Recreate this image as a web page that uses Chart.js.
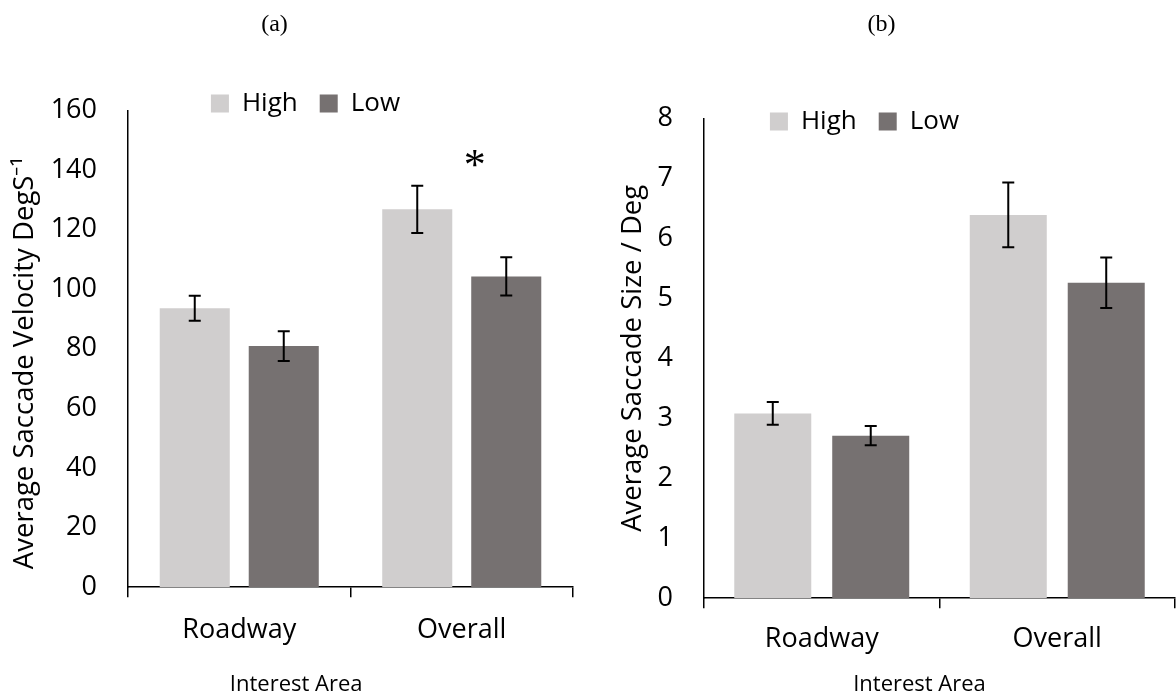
<!DOCTYPE html>
<html>
<head>
<meta charset="utf-8">
<script src="https://cdn.jsdelivr.net/npm/chart.js@4"></script>
<style>
  html, body { margin: 0; padding: 0; background: #fff; }
  .box { position: absolute; top: 0; width: 588px; height: 700px; }
</style>
</head>
<body>
<div class="box" style="left:0"><canvas id="velChart"></canvas></div>
<div class="box" style="left:588px"><canvas id="sizeChart"></canvas></div>
<script>
const categories = ['Roadway', 'Overall'];
const seriesNames = ['High', 'Low'];
const seriesColors = ['#D0CECE', '#767171'];

// (a) saccade velocity
const velHigh = [93.6, 126.8];
const velHighErr = [4.2, 7.9];
const velLow = [80.9, 104.3];
const velLowErr = [5.0, 6.4];
const velTicks = [0, 20, 40, 60, 80, 100, 120, 140, 160];
const velStar = { dataset: 1, index: 1, value: 144 };

// (b) saccade size
const sizeHigh = [3.08, 6.39];
const sizeHighErr = [0.19, 0.54];
const sizeLow = [2.71, 5.26];
const sizeLowErr = [0.16, 0.42];
const sizeTicks = [0, 1, 2, 3, 4, 5, 6, 7, 8];

const FONT = "'Open Sans', sans-serif";

const errorBars = {
    id: 'errorBars',
    afterDatasetsDraw(chart) {
        const ctx = chart.ctx;
        const y = chart.scales.y;
        chart.data.datasets.forEach(function(ds, i) {
            const meta = chart.getDatasetMeta(i);
            meta.data.forEach(function(bar, j) {
                const v = ds.data[j], e = ds.errors[j];
                const top = y.getPixelForValue(v + e);
                const bot = y.getPixelForValue(v - e);
                ctx.save();
                ctx.strokeStyle = '#000';
                ctx.lineWidth = 2;
                ctx.beginPath();
                ctx.moveTo(bar.x, top); ctx.lineTo(bar.x, bot);
                ctx.moveTo(bar.x - 6, top); ctx.lineTo(bar.x + 6, top);
                ctx.moveTo(bar.x - 6, bot); ctx.lineTo(bar.x + 6, bot);
                ctx.stroke();
                ctx.restore();
            });
        });
    }
};

const starMark = {
    id: 'starMark',
    afterDatasetsDraw(chart, args, opts) {
        if (!opts || !opts.mark) return;
        const m = opts.mark;
        const bar = chart.getDatasetMeta(m.dataset).data[m.index];
        const ctx = chart.ctx;
        ctx.save();
        ctx.font = "44px 'Liberation Serif', serif";
        ctx.fillStyle = '#000';
        ctx.textAlign = 'center';
        ctx.textBaseline = 'alphabetic';
        const mt = ctx.measureText('*');
        const mid = (mt.actualBoundingBoxAscent - mt.actualBoundingBoxDescent) / 2;
        ctx.fillText('*', bar.x - bar.width * 0.45, chart.scales.y.getPixelForValue(m.value) + mid);
        ctx.restore();
    }
};

// nudge the legend so it sits where the original has it
const legendShift = {
    id: 'legendShift',
    afterLayout(chart, args, opts) {
        const lg = chart.legend;
        lg.left += opts.dx; lg.right += opts.dx;
        lg.top += opts.dy; lg.bottom += opts.dy;
    }
};

function makeChart(id, cfg) {
    return new Chart(document.getElementById(id), {
        type: 'bar',
        data: {
            labels: categories,
            datasets: [
                { label: seriesNames[0], data: cfg.high, errors: cfg.highErr, backgroundColor: seriesColors[0],
                  categoryPercentage: cfg.catPct, barPercentage: cfg.barPct },
                { label: seriesNames[1], data: cfg.low, errors: cfg.lowErr, backgroundColor: seriesColors[1],
                  categoryPercentage: cfg.catPct, barPercentage: cfg.barPct }
            ]
        },
        options: {
            responsive: false,
            animation: false,
            devicePixelRatio: 1,
            layout: { padding: { left: 0, right: cfg.padRight, top: 0, bottom: 0 } },
            plugins: {
                tooltip: { enabled: false },
                title: {
                    display: true,
                    text: cfg.title,
                    color: '#000',
                    font: { family: "'Liberation Serif', serif", size: 24, weight: 'normal' },
                    padding: { top: 10, bottom: cfg.titleGap }
                },
                legend: {
                    position: 'top',
                    labels: {
                        color: '#000',
                        font: { family: FONT, size: 26 },
                        boxWidth: 18,
                        boxHeight: 18,
                        padding: 22
                    }
                },
                legendShift: { dx: cfg.legendDx, dy: cfg.legendDy },
                starMark: { mark: cfg.star }
            },
            scales: {
                x: {
                    grid: { display: true, drawOnChartArea: false, drawTicks: true, tickLength: 10, color: '#000', lineWidth: 1.5, offset: true },
                    border: { display: true, color: '#000', width: 1.5 },
                    ticks: { color: '#000', font: { family: FONT, size: 27 }, padding: cfg.xTickPad, maxRotation: 0 },
                    title: {
                        display: true,
                        text: 'Interest Area' + '\u00a0'.repeat(cfg.xTitleShift),
                        color: '#000',
                        font: { family: FONT, size: 22 },
                        padding: { top: cfg.xTitleTop, bottom: 2 }
                    }
                },
                y: {
                    min: cfg.ticks[0],
                    max: cfg.ticks[cfg.ticks.length - 1],
                    afterBuildTicks: function(scale) {
                        scale.ticks = cfg.ticks.map(function(v) { return { value: v }; });
                    },
                    afterFit: function(scale) { scale.width = cfg.yWidth; },
                    grid: { display: false },
                    border: { display: true, color: '#000', width: 1.5 },
                    ticks: { color: '#000', font: { family: FONT, size: 27 }, padding: 23 },
                    title: {
                        display: true,
                        text: cfg.yTitle + '\u00a0'.repeat(cfg.yTitleShift),
                        color: '#000',
                        font: { family: FONT, size: 27.5 },
                        padding: { top: cfg.yTitlePad, bottom: 0 }
                    }
                }
            }
        },
        plugins: [errorBars, starMark, legendShift]
    });
}

document.getElementById('velChart').width = 588;
document.getElementById('velChart').height = 700;
document.getElementById('sizeChart').width = 588;
document.getElementById('sizeChart').height = 700;

makeChart('velChart', {
    title: '(a)' + '\u00a0'.repeat(4),
    high: velHigh, highErr: velHighErr, low: velLow, lowErr: velLowErr,
    ticks: velTicks,
    yTitle: 'Average Saccade Velocity DegS\u207B\u00B9', yTitleShift: 4,
    catPct: 0.80, barPct: 0.787,
    padRight: 15, yWidth: 128, yTitlePad: 9,
    titleGap: 13.6, legendDx: 19, legendDy: 16,
    xTickPad: 17, xTitleTop: 8, xTitleShift: 19,
    star: velStar
});

makeChart('sizeChart', {
    title: '(b)',
    high: sizeHigh, highErr: sizeHighErr, low: sizeLow, lowErr: sizeLowErr,
    ticks: sizeTicks,
    yTitle: 'Average Saccade Size / Deg', yTitleShift: 0,
    catPct: 0.832, barPct: 0.786,
    padRight: 1, yWidth: 116, yTitlePad: 29,
    titleGap: 21.6, legendDx: -17, legendDy: 26,
    xTickPad: 15, xTitleTop: 1, xTitleShift: 7,
    star: null
});
</script>
</body>
</html>
